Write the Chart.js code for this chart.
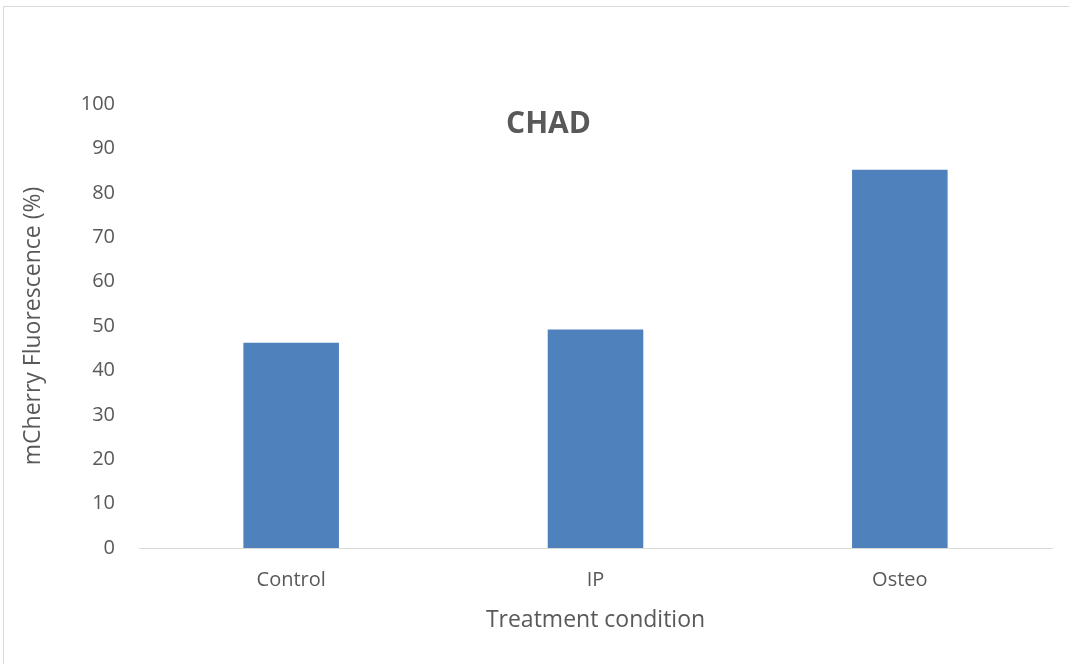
<!DOCTYPE html>
<html>
<head>
<meta charset="utf-8">
<script src="https://cdn.jsdelivr.net/npm/chart.js@4"></script>
<style>
  html, body { margin: 0; padding: 0; background: #fff; overflow: hidden; }
  #wrap { position: relative; width: 1069px; height: 664px; }
  #frame { position: absolute; left: 3px; top: 6px; width: 1100px; height: 700px;
           border: 1px solid #d9d9d9; box-sizing: border-box; pointer-events: none; }
  canvas { position: absolute; left: 0; top: 0; }
</style>
</head>
<body>
<div id="wrap">
  <canvas id="c" width="1069" height="664"></canvas>
  <div id="frame"></div>
</div>
<script>
const chartTitle = 'CHAD';
const categories = ['Control', 'IP', 'Osteo'];
const fluorescence = [46.2, 49.2, 85.2];
const yTicks = [0, 10, 20, 30, 40, 50, 60, 70, 80, 90, 100];
const xAxisTitle = 'Treatment condition';
const yAxisTitle = 'mCherry Fluorescence (%)';

const FONT = '"Open Sans", sans-serif';
const TEXT = '#595959';

// Title sits inside the plot area, near its top
const innerTitle = {
  id: 'innerTitle',
  afterDraw(chart) {
    const { ctx } = chart;
    ctx.save();
    ctx.font = 'bold 30px ' + FONT;
    ctx.fillStyle = TEXT;
    ctx.textAlign = 'center';
    ctx.textBaseline = 'middle';
    ctx.fillText(chartTitle, chart.width / 2 + 14, 124);
    ctx.restore();
  }
};

new Chart(document.getElementById('c'), {
  type: 'bar',
  data: {
    labels: categories,
    datasets: [{
      data: fluorescence,
      backgroundColor: '#4f81bd',
      borderWidth: 0,
      categoryPercentage: 1,
      barPercentage: 0.314
    }]
  },
  options: {
    responsive: false,
    animation: false,
    devicePixelRatio: 1,
    layout: { padding: { top: 104, right: 17, bottom: 0, left: 0 } },
    plugins: { legend: { display: false }, tooltip: { enabled: false }, title: { display: false } },
    scales: {
      x: {
        grid: { display: false, drawTicks: false },
        border: { display: true, color: '#d9d9d9', width: 1 },
        ticks: { color: TEXT, font: { family: FONT, size: 20 }, padding: 20 },
        title: { display: true, text: xAxisTitle, color: TEXT,
                 font: { family: FONT, size: 23 }, padding: { top: 0, bottom: 30 } },
        afterFit(scale) { scale.height = 116; }
      },
      y: {
        min: 0, max: 100,
        afterBuildTicks(scale) { scale.ticks = yTicks.map(v => ({ value: v })); },
        grid: { display: false, drawTicks: false },
        border: { display: false },
        ticks: { color: TEXT, font: { family: FONT, size: 20 }, padding: 24 },
        title: { display: true, text: yAxisTitle, color: TEXT,
                 font: { family: FONT, size: 23 }, padding: { top: 20, bottom: 0 } },
        afterFit(scale) { scale.width = 139; }
      }
    }
  },
  plugins: [innerTitle]
});
</script>
</body>
</html>
